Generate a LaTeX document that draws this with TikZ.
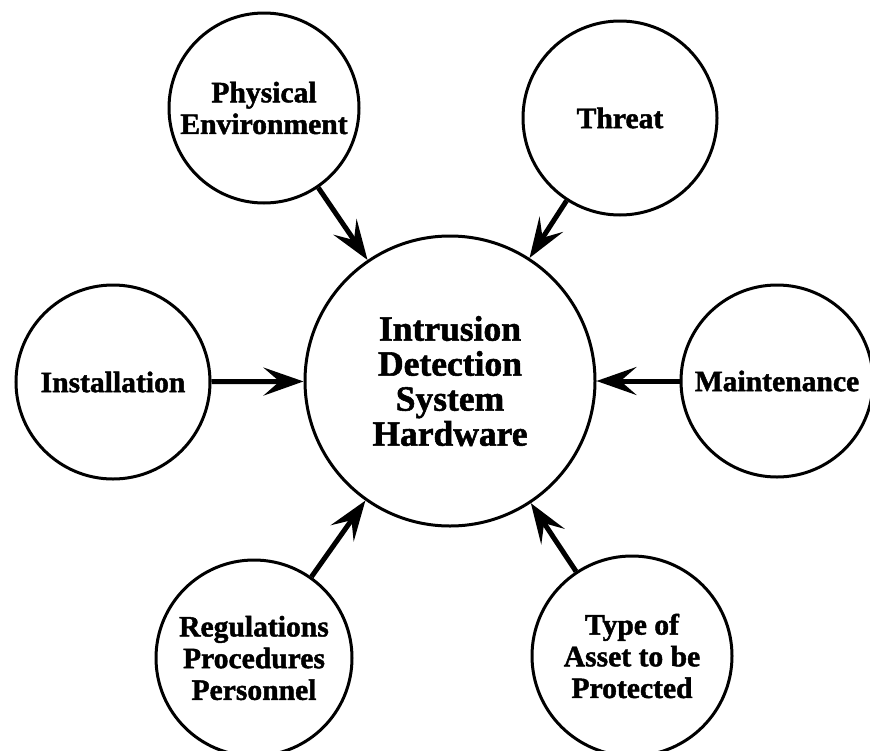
\documentclass[tikz,border=0pt]{standalone}
\usepackage{fontspec}
\setmainfont{Liberation Serif}[BoldFeatures={FakeBold=1.5}]
\usetikzlibrary{arrows.meta}
\begin{document}
\begin{tikzpicture}[x=1pt,y=-1pt,
  bubble/.style={circle,draw=black,line width=3pt,inner sep=0pt,align=center,
    font=\fontsize{29.6}{31.7}\selectfont\bfseries},
  hub/.style={bubble,font=\fontsize{35.5}{35}\selectfont\bfseries},
  link/.style={line width=5pt,-{Stealth[length=40pt,width=28pt,inset=16pt]}}]
\useasboundingbox (0,0) rectangle (870,750);
\clip (0,0) rectangle (870,750);

% central element
\node[hub,minimum size=290pt] (core) at (450,381)
  {Intrusion\\ Detection\\ System\\ Hardware};

% influencing factors
\node[bubble,minimum size=190pt] (phys)  at (264,108) {Physical\\Environment};
\node[bubble,minimum size=194pt] (threat) at (620,118) {Threat};
\node[bubble,minimum size=194pt] (inst)  at (113,382) {Installation};
\node[bubble,minimum size=192pt] (maint) at (777,381) {Maintenance};
\node[bubble,minimum size=196pt] (regs)  at (254,658) {Regulations\\Procedures\\Personnel};
\node[bubble,minimum size=200pt] (asset) at (632,656) {Type of\\Asset to be\\Protected};

% arrows into the hardware
\draw[link] (phys)   -- (core);
\draw[link] (threat) -- (core);
\draw[link] (inst)   -- (core);
\draw[link] (maint)  -- (core);
\draw[link] (regs)   -- (core);
\draw[link] (asset)  -- (core);
\end{tikzpicture}
\end{document}
